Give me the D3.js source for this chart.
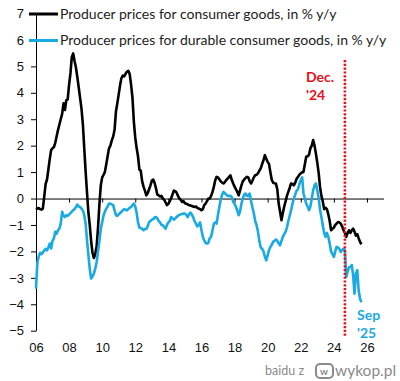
<!DOCTYPE html>
<html>
<head>
<meta charset="utf-8">
<script src="https://cdn.jsdelivr.net/npm/d3@7"></script>
<style>
body { margin: 0; background: #fff; }
svg { display: block; font-family: Lato, 'Open Sans', sans-serif; }
.axis text { fill: #111; font-size: 13px; }
.axis path, .axis line { stroke: #000; }
</style>
</head>
<body>
<svg width="400" height="381"></svg>
<script>
// Monthly values, Jan 2006 .. Sep 2025, in % y/y
const startYear = 2006
const consumerGoods = [
  -0.35, -0.38, -0.36, -0.4, -0.42, -0.38, 0.06, 0.55, 0.72, 1.1, 1.5, 1.83,
  1.9, 1.95, 2.1, 2.35, 2.59, 2.8, 3.0, 3.2, 3.6, 3.35, 3.72, 3.75,
  4.3, 4.75, 5.35, 5.49, 5.2, 4.95, 4.6, 4.2, 3.8, 3.4, 2.8, 1.9,
  1.0, 0.2, -0.5, -1.0, -1.6, -2.05, -2.25, -2.1, -1.8, -1.1, -0.2, 0.5,
  0.8, 0.9, 1.0, 1.3, 1.6, 1.9, 2.0, 2.2, 2.35, 2.6, 3.3, 3.6,
  3.95, 4.3, 4.55, 4.65, 4.62, 4.72, 4.8, 4.83, 4.7, 4.3, 3.8, 2.9,
  2.3, 1.9, 1.6, 1.1, 1.05, 0.65, 0.45, 0.3, 0.12, 0.2, 0.35, 0.5,
  0.68, 0.72, 0.6, 0.4, 0.15, 0.12, 0.08, 0.1, 0.0, -0.05, -0.15, -0.25,
  -0.2, -0.1, 0.0, 0.15, 0.3, 0.28, 0.22, 0.1, 0.0, -0.05, -0.13, -0.1,
  -0.18, -0.2, -0.22, -0.25, -0.26, -0.28, -0.3, -0.32, -0.3, -0.35, -0.38, -0.4,
  -0.44, -0.4, -0.25, -0.19, -0.1, 0.0, 0.0, 0.1, 0.25, 0.45, 0.7, 0.82,
  0.8, 0.72, 0.65, 0.6, 0.57, 0.62, 0.7, 0.75, 0.82, 0.88, 0.7, 0.57,
  0.45, 0.35, 0.25, 0.12, 0.3, 0.5, 0.65, 0.72, 0.78, 0.82, 0.8, 0.65,
  0.57, 0.68, 0.8, 0.88, 0.9, 0.95, 1.05, 1.14, 1.3, 1.45, 1.64, 1.5,
  1.39, 1.3, 1.0, 0.7, 0.6, 0.58, 0.57, 0.35, -0.2, -0.5, -0.82, -0.55,
  -0.3, -0.1, 0.1, 0.25, 0.4, 0.57, 0.55, 0.5, 0.6, 0.75, 0.82, 0.9,
  0.95, 1.0, 1.0, 1.3, 1.58, 1.6, 1.65, 1.9, 2.0, 2.21, 2.0, 1.7,
  1.35, 0.95, 0.45, 0.1, -0.1, -0.4, -0.35, -0.4, -0.6, -0.85, -1.2, -1.15,
  -1.1, -1.0, -0.95, -0.89, -0.9, -0.95, -1.05, -1.2, -1.3, -1.45, -1.3, -1.2,
  -1.3, -1.2, -1.14, -1.25, -1.4, -1.35, -1.5, -1.64, -1.73
]
const durableGoods = [
  -3.41, -2.4, -2.21, -2.05, -2.1, -2.05, -1.96, -1.9, -1.96, -1.85, -1.7, -1.89,
  -1.6, -1.5, -1.26, -1.33, -1.2, -1.14, -0.95, -0.5, -0.65, -0.7, -0.63, -0.65,
  -0.6, -0.55, -0.5, -0.44, -0.4, -0.32, -0.23, -0.3, -0.32, -0.38, -0.45, -0.63,
  -0.95, -1.6, -2.1, -2.65, -3.03, -2.95, -2.84, -2.65, -2.4, -2.0, -1.6, -1.14,
  -0.9, -0.63, -0.5, -0.38, -0.3, -0.19, -0.2, -0.22, -0.25, -0.45, -0.63, -0.65,
  -0.6, -0.55, -0.5, -0.45, -0.4, -0.42, -0.45, -0.4, -0.35, -0.32, -0.25, -0.19,
  -0.3, -0.55, -0.89, -1.1, -1.12, -1.15, -1.2, -1.15, -1.15, -1.05, -0.89, -0.85,
  -0.8, -0.78, -0.72, -0.7, -0.75, -0.85, -0.9, -1.0, -1.01, -1.08, -1.14, -1.0,
  -0.9, -0.85, -0.7, -0.75, -0.8, -0.75, -0.7, -0.65, -0.62, -0.6, -0.58, -0.57,
  -0.57, -0.62, -0.7, -0.6, -0.53, -0.6, -0.7, -0.85, -0.95, -1.05, -1.0, -0.9,
  -1.2, -1.45, -1.58, -1.68, -1.7, -1.68, -1.5, -1.45, -1.2, -0.95, -0.9, -0.95,
  -0.6, -0.3, -0.05, 0.15, 0.25, 0.2, 0.15, 0.1, 0.1, 0.1, 0.05, -0.12,
  -0.2, -0.32, -0.45, -0.63, -0.5, -0.2, 0.0, 0.15, 0.19, 0.1, 0.1, 0.19,
  -0.1, -0.35, -0.55, -0.85, -1.0, -1.25, -1.6, -1.85, -1.9, -2.0, -2.2, -2.34,
  -2.15, -1.95, -1.83, -1.75, -1.64, -1.6, -1.55, -1.6, -1.7, -1.77, -1.6, -1.45,
  -1.35, -1.25, -1.1, -0.85, -0.65, -0.45, -0.2, 0.0, 0.15, 0.3, 0.35, 0.55,
  0.69, 0.8, 0.2, 0.0, -0.19, -0.3, -0.44, -0.3, 0.0, 0.31, 0.5, 0.57,
  0.3, 0.0, -0.4, -0.7, -1.0, -1.3, -1.45, -1.3, -1.45, -1.7, -2.0, -2.1,
  -2.21, -2.0, -1.83, -1.85, -1.9, -2.02, -1.95, -1.9, -1.96, -2.97, -2.75, -2.6,
  -2.59, -2.52, -2.9, -3.6, -2.84, -2.71, -3.47, -3.79, -3.92
]
const yTickValues = d3.range(-5, 8)
const xTickYears = d3.range(2006, 2027, 2)
const legendLabels = [
  'Producer prices for consumer goods, in % y/y',
  'Producer prices for durable consumer goods, in % y/y'
]
const markerDate = new Date(2024, 8, 1)

const colors = { consumer: '#000', durable: '#19aae3', marker: '#e3121b' }
const monthDate = i => new Date(startYear, i, 1)

const svg = d3.select('svg')

// Scales
const x = d3.scaleTime()
  .domain([new Date(2006, 0, 1), new Date(2027, 0, 1)])
  .range([36, 383.5])
const y = d3.scaleLinear()
  .domain([-5, 7])
  .range([330.7, 13.5])

// y axis
svg.append('g')
  .attr('class', 'axis axis-y')
  .attr('transform', 'translate(36,0)')
  .call(d3.axisLeft(y).tickValues(yTickValues).tickSize(5).tickSizeOuter(0).tickPadding(7))

// x axis line sits at zero, labels sit low
svg.append('g')
  .attr('class', 'axis axis-x')
  .attr('transform', 'translate(0,' + y(0) + ')')
  .call(d3.axisBottom(x)
    .tickValues(xTickYears.map(yr => new Date(yr, 0, 1)))
    .tickSize(4).tickSizeOuter(0).tickFormat(''))

const xLabels = svg.append('g')
  .attr('class', 'axis axis-x-labels')
  .attr('transform', 'translate(0,343)')
  .call(d3.axisBottom(x)
    .tickValues(xTickYears.map(yr => new Date(yr, 0, 1)))
    .tickSize(0).tickPadding(0).tickFormat(d3.timeFormat('%y')))
xLabels.select('.domain').remove()

// lines
const line = d3.line()
  .x((d, i) => x(monthDate(i)))
  .y(d => y(d))

svg.append('path')
  .datum(consumerGoods)
  .attr('fill', 'none')
  .attr('stroke', colors.consumer)
  .attr('stroke-width', 2.6)
  .attr('stroke-linejoin', 'round')
  .attr('d', line)

svg.append('path')
  .datum(durableGoods)
  .attr('fill', 'none')
  .attr('stroke', colors.durable)
  .attr('stroke-width', 2.6)
  .attr('stroke-linejoin', 'round')
  .attr('d', line)

// December marker
svg.append('line')
  .attr('x1', x(markerDate)).attr('x2', x(markerDate))
  .attr('y1', 60).attr('y2', 336)
  .attr('stroke', colors.marker)
  .attr('stroke-width', 2.6)
  .attr('stroke-dasharray', '2.2,1.6')

const note = svg.append('g')
  .attr('font-weight', 'bold')
  .attr('font-size', 14)
note.append('text').attr('x', 306).attr('y', 82).attr('fill', colors.marker).text('Dec.')
note.append('text').attr('x', 306).attr('y', 100).attr('fill', colors.marker).text("'24")
note.append('text').attr('x', 357).attr('y', 320).attr('fill', colors.durable).text('Sep')
note.append('text').attr('x', 357).attr('y', 338).attr('fill', colors.durable).text("'25")

// legend
const legend = svg.append('g')
  .selectAll('g')
  .data(legendLabels)
  .join('g')
  .attr('transform', (d, i) => 'translate(0,' + (14 + i * 26.5) + ')')
legend.append('line')
  .attr('x1', 29).attr('x2', 58)
  .attr('stroke', (d, i) => i === 0 ? colors.consumer : colors.durable)
  .attr('stroke-width', 3)
legend.append('text')
  .attr('x', 60)
  .attr('y', 4.8)
  .attr('font-size', 14)
  .attr('fill', '#222')
  .text(d => d)

// source watermark
const mark = svg.append('g').attr('fill', '#8a8a8a')
mark.append('text').attr('x', 265).attr('y', 375).attr('font-size', 12.5).text('baidu  z')
mark.append('rect')
  .attr('x', 316).attr('y', 364).attr('width', 17).attr('height', 14).attr('rx', 4)
  .attr('fill', 'none').attr('stroke', '#8a8a8a').attr('stroke-width', 2)
mark.append('text').attr('x', 320).attr('y', 375).attr('font-size', 10).attr('font-weight', 'bold').text('w')
mark.append('text').attr('x', 335).attr('y', 376).attr('font-size', 15.5).text('wykop.pl')
</script>
</body>
</html>
